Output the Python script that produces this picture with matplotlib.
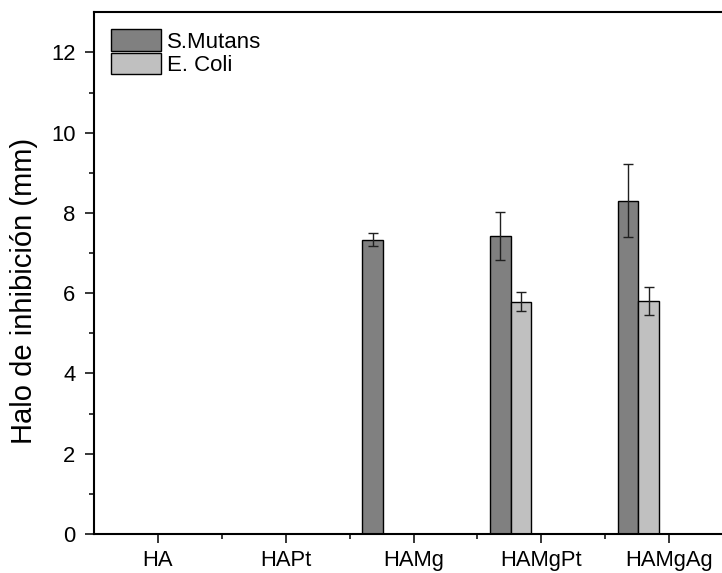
import matplotlib
matplotlib.use("Agg")
import matplotlib.pyplot as plt
import numpy as np

plt.rcParams['font.family'] = ['Liberation Sans', 'DejaVu Sans']

# data
categories = ["HA", "HAPt", "HAMg", "HAMgPt", "HAMgAg"]
s_mutans = [0.0, 0.0, 7.33, 7.42, 8.31]
s_mutans_err = [0.0, 0.0, 0.16, 0.60, 0.90]
e_coli = [0.0, 0.0, 0.0, 5.79, 5.80]
e_coli_err = [0.0, 0.0, 0.0, 0.24, 0.35]

W, H = 722, 573
fig = plt.figure(figsize=(W / 100, H / 100), dpi=100)
# axes runs past the right edge of the image, as in the reference
ax = fig.add_axes([94 / W, 39 / H, 639 / W, 521.7 / H])

x = np.arange(1, len(categories) + 1)
bw = 0.16

ax.bar(x - 0.32, s_mutans, width=bw, color="#808080", edgecolor="black",
       linewidth=1.0, label="S.Mutans", zorder=2)
ax.bar(x - 0.16, e_coli, width=bw, color="#c0c0c0", edgecolor="black",
       linewidth=1.0, label="E. Coli", zorder=2)

for vals, errs, off in [(s_mutans, s_mutans_err, -0.32), (e_coli, e_coli_err, -0.16)]:
    v = np.array(vals)
    e = np.array(errs)
    m = v > 0
    ax.errorbar(x[m] + off, v[m], yerr=e[m], fmt="none", ecolor="#202020",
                elinewidth=1.0, capsize=3.6, capthick=1.0, zorder=3)

ax.set_xlim(0.5, 5.5)
ax.set_ylim(0, 13)
ax.set_xticks(x)
ax.set_xticklabels(categories)
ax.set_xticks(x[:-1] + 0.5, minor=True)
ax.set_yticks(np.arange(0, 13, 2))
ax.set_yticks(np.arange(1, 13, 2), minor=True)

for sp in ax.spines.values():
    sp.set_linewidth(1.5)
ax.tick_params(axis="both", which="major", direction="out", length=6.8, width=1.1,
               labelsize=15.8)
ax.tick_params(axis="x", which="major", pad=4.5)
ax.tick_params(axis="y", which="major", pad=6.5)
ax.tick_params(axis="both", which="minor", direction="out", length=3.6, width=1.1)

ax.set_ylabel("Halo de inhibición (mm)", fontsize=21)
ax.yaxis.set_label_coords(-0.0875, 0.465)

ax.legend(loc="upper left", bbox_to_anchor=(110.7 / W, 1 - 29.3 / H),
          bbox_transform=fig.transFigure, frameon=False, fontsize=16,
          handlelength=2.25, handleheight=1.12, labelspacing=0.0,
          handletextpad=0.3, borderpad=0, borderaxespad=0)

fig.savefig("out.png", dpi=100)
